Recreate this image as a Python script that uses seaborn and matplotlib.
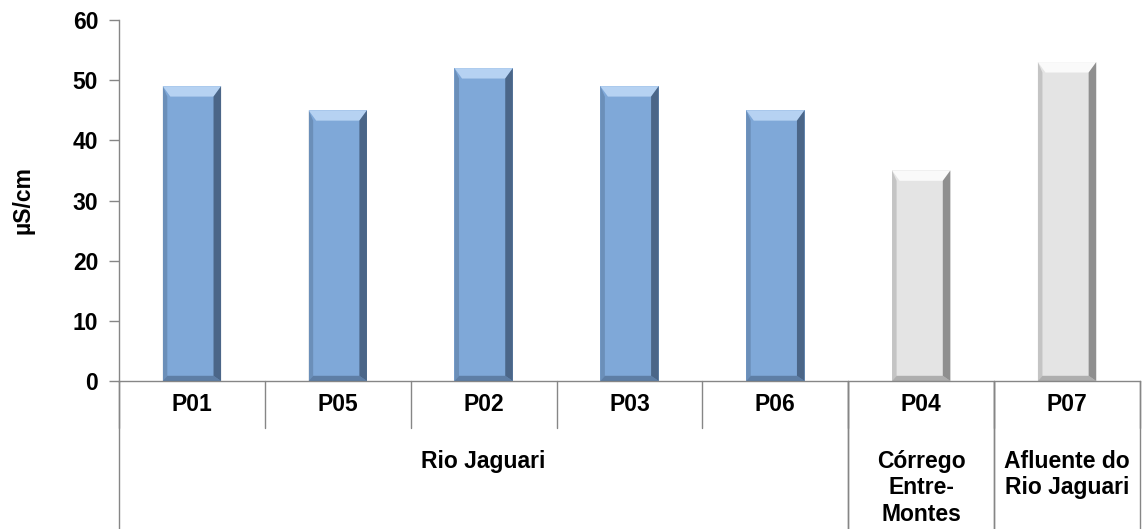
import matplotlib
matplotlib.use("Agg")
import matplotlib.pyplot as plt
import matplotlib.transforms as mtransforms
from matplotlib.patches import Polygon
import seaborn as sns
import pandas as pd

points = ["P01", "P05", "P02", "P03", "P06", "P04", "P07"]
values = [49, 45, 52, 49, 45, 35, 53]
groups = ["Rio Jaguari", "Rio Jaguari", "Rio Jaguari", "Rio Jaguari", "Rio Jaguari",
          "Córrego\nEntre-\nMontes", "Afluente do\nRio Jaguari"]
kinds = ["main", "main", "main", "main", "main", "other", "other"]
y_ticks = [0, 10, 20, 30, 40, 50, 60]
y_label = "µS/cm"

sns.set_theme(style="white")
plt.rcParams['font.family'] = ['Liberation Sans', 'DejaVu Sans']
plt.rcParams['text.color'] = 'black'
plt.rcParams['axes.labelcolor'] = 'black'
plt.rcParams['ytick.color'] = 'black'

FS = 16.5

df = pd.DataFrame({"point": points, "value": values, "kind": kinds})
palette = {"main": "#7FA8D8", "other": "#E4E4E4"}
dark = {"main": "#3E5674", "other": "#7A7A7A"}
light = {"main": "#B6D2F2", "other": "#FAFAFA"}

fig = plt.figure(figsize=(11.43, 5.29), dpi=100)
ax = fig.add_axes([119/1143, 148/529, (1140-119)/1143, 361/529])

sns.barplot(data=df, x="point", y="value", hue="kind", palette=palette,
            width=0.4, dodge=False, legend=False, ax=ax, saturation=1,
            edgecolor="none", order=points)

# bevel effect derived from bar geometry
for patch, k in zip(sorted(ax.patches, key=lambda p: p.get_x()), kinds):
    x0 = patch.get_x(); w = patch.get_width(); h = patch.get_height()
    if h <= 0:
        continue
    dx = w * 0.13
    dy = 60 * 0.012 * 2.4
    ax.add_patch(Polygon([[x0, h], [x0 + w, h], [x0 + w - dx, h - dy], [x0 + dx, h - dy]],
                         closed=True, facecolor=light[k], edgecolor="none", zorder=3))
    ax.add_patch(Polygon([[x0 + w, h], [x0 + w, 0], [x0 + w - dx, dy * 0.5], [x0 + w - dx, h - dy]],
                         closed=True, facecolor=dark[k], edgecolor="none", zorder=3, alpha=0.8))
    ax.add_patch(Polygon([[x0, h], [x0, 0], [x0 + dx * 0.6, dy * 0.5], [x0 + dx * 0.6, h - dy]],
                         closed=True, facecolor=dark[k], edgecolor="none", zorder=3, alpha=0.3))
    ax.add_patch(Polygon([[x0, 0], [x0 + w, 0], [x0 + w - dx, dy * 0.5], [x0 + dx * 0.6, dy * 0.5]],
                         closed=True, facecolor=dark[k], edgecolor="none", zorder=3, alpha=0.5))

n = len(points)
ax.set_xlim(-0.5, n - 0.5)
ax.set_ylim(0, 60)
ax.set_yticks(y_ticks)
ax.set_yticklabels([str(t) for t in y_ticks], fontsize=FS, fontweight="bold")
ax.set_xticks([])
ax.set_xlabel("")
ax.set_ylabel(y_label, fontsize=FS, fontweight="bold")
ax.yaxis.set_label_coords(-0.083, 0.5)
ax.tick_params(axis="y", which="both", left=True, length=7, width=1, color="#868686", pad=8)

for s in ["top", "right"]:
    ax.spines[s].set_visible(False)
for s in ["left", "bottom"]:
    ax.spines[s].set_color("#868686")
    ax.spines[s].set_linewidth(1)

trans = mtransforms.blended_transform_factory(ax.transData, ax.transAxes)
line_kw = dict(color="#868686", lw=1, clip_on=False, transform=trans)

# level-1 labels and separators
for i, p in enumerate(points):
    ax.text(i, -0.066, p, transform=trans, ha="center", va="center",
            fontsize=FS, fontweight="bold", color="black")
for i in range(n + 1):
    ax.plot([i - 0.5, i - 0.5], [0, -0.13], **line_kw)

# level-2 group labels
spans = []
start = 0
for i in range(1, n + 1):
    if i == n or groups[i] != groups[start]:
        spans.append((start, i - 1, groups[start]))
        start = i
for a, b, g in spans:
    ax.text((a + b) / 2, -0.19, g, transform=trans, ha="center", va="top",
            fontsize=FS, fontweight="bold", linespacing=1.2, color="black")
    ax.plot([a - 0.5, a - 0.5], [0, -0.42], **line_kw)
    ax.plot([b + 0.5, b + 0.5], [0, -0.42], **line_kw)

fig.savefig("out.png", dpi=100)
